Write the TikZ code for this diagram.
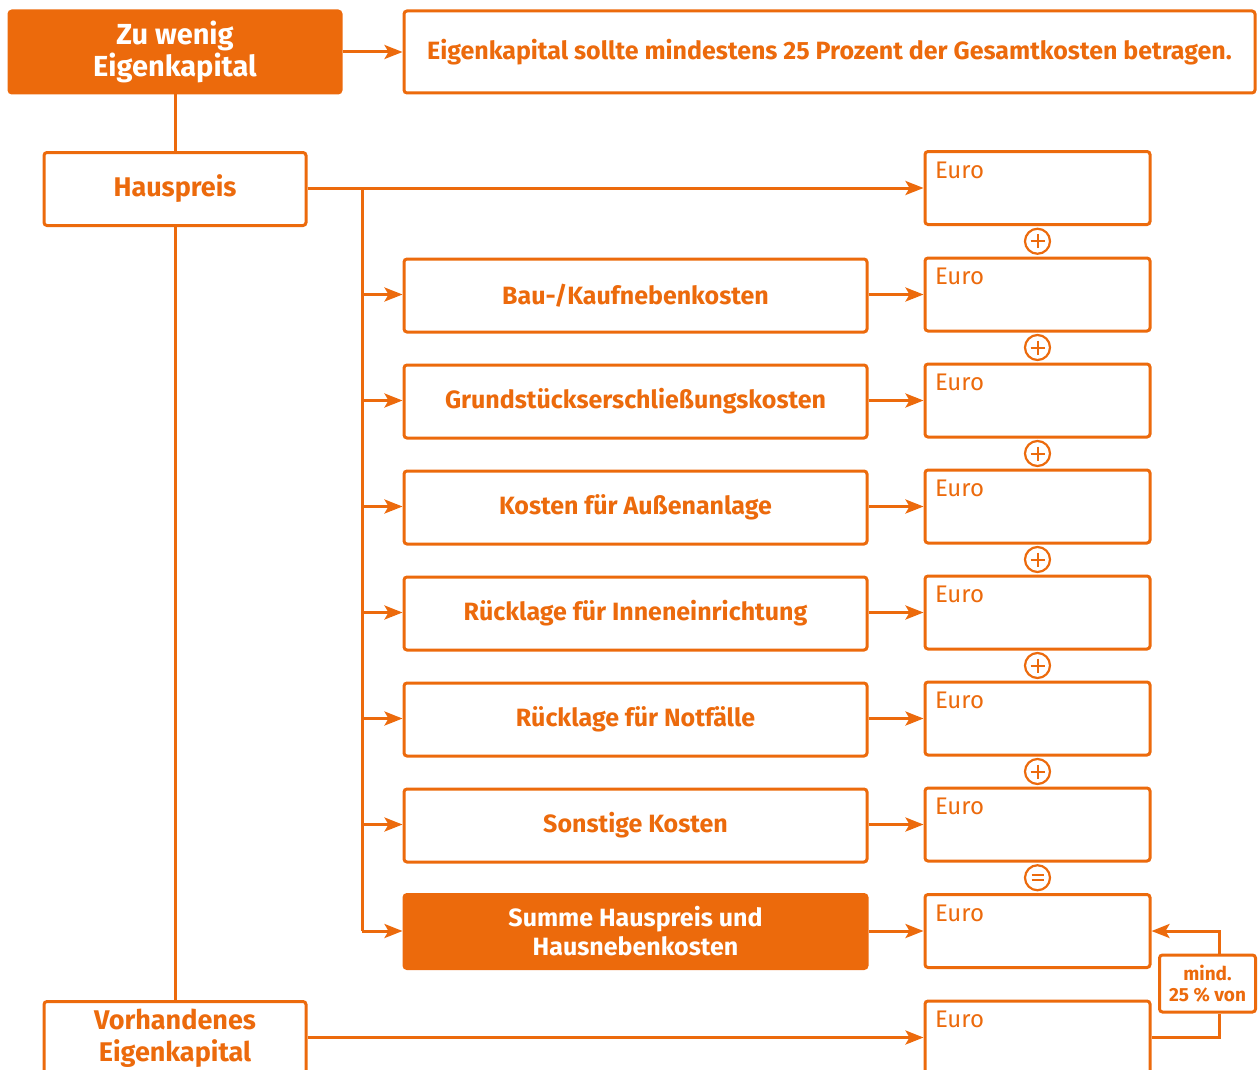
\documentclass[tikz,border=0pt]{standalone}
\usepackage{fontspec}
\setmainfont{Fira Sans}
\usetikzlibrary{arrows.meta,calc}
\definecolor{myor}{RGB}{236,106,12}
\begin{document}
\begin{tikzpicture}[x=1pt,y=-1pt,
  line width=3pt,
  lin/.style={draw=myor,line width=3pt},
  arr/.style={lin,-{Stealth[length=18pt,width=14pt,inset=4pt]}},
  box/.style={draw=myor,line width=3pt,rounded corners=3pt,fill=white,text=myor,
    inner sep=0pt,align=center,font=\bfseries\fontsize{25}{29}\selectfont},
  fbox/.style={box,fill=myor,text=white},
  midbox/.style={box,minimum width=463pt,minimum height=73pt},
  eurobox/.style={box,minimum width=225pt,minimum height=73pt},
  eurotxt/.style={anchor=base west,text=myor,inner sep=0pt,font=\fontsize{24}{28}\selectfont},
  opc/.style={draw=myor,line width=2.2pt,circle,minimum size=25pt,inner sep=0pt,fill=white}
]
\useasboundingbox (0,0) rectangle (1260,1070);
\clip (0,0) rectangle (1260,1070);

% top row
\node[fbox,minimum width=332pt,minimum height=82pt,font=\bfseries\fontsize{29}{32}\selectfont] (zu) at (175,52) {Zu wenig\\Eigenkapital};
\node[box,minimum width=851pt,minimum height=82pt] (top) at (829.5,52) {Eigenkapital sollte mindestens 25 Prozent der Gesamtkosten betragen.};

% left column
\node[box,minimum width=262pt,minimum height=73pt,font=\bfseries\fontsize{27}{31}\selectfont] (haus) at (175,189) {Hauspreis};
\node[box,minimum width=262pt,minimum height=73pt,font=\bfseries\fontsize{27}{32}\selectfont] (vor) at (175,1038) {Vorhandenes\\Eigenkapital};

% middle column
\node[midbox] (m1) at (635.5,295.5) {Bau-/Kaufnebenkosten};
\node[midbox] (m2) at (635.5,401.5) {Grundstückserschließungskosten};
\node[midbox] (m3) at (635.5,507.5) {Kosten für Außenanlage};
\node[midbox] (m4) at (635.5,613.5) {Rücklage für Inneneinrichtung};
\node[midbox] (m5) at (635.5,719.5) {Rücklage für Notfälle};
\node[midbox] (m6) at (635.5,825.5) {Sonstige Kosten};
\node[midbox,fill=myor,text=white,minimum height=74pt] (m7) at (635.5,931.5) {Summe Hauspreis und\\Hausnebenkosten};

% euro column
\foreach \n/\y in {0/188,1/294.5,2/400.5,3/506.5,4/612.5,5/718.5,6/824.5,7/931,8/1037.5}{
  \node[eurobox] (e\n) at (1037.5,\y) {};
  \node[eurotxt] (et\n) at ($(e\n.north west)+(10,28)$) {Euro};
}

% operator circles
\foreach \a/\b in {0/1,1/2,2/3,3/4,4/5,5/6}{
  \node[opc] (p\a) at ($(e\a.south)!0.5!(e\b.north)$) {};
  \draw[draw=myor,line width=2pt] ($(p\a)+(-7,0)$) -- ($(p\a)+(7,0)$);
  \draw[draw=myor,line width=2pt] ($(p\a)+(0,-7)$) -- ($(p\a)+(0,7)$);
}
\node[opc] (q6) at ($(e6.south)!0.5!(e7.north)$) {};
\draw[draw=myor,line width=2pt] ($(q6)+(-6,-2.5)$) -- ($(q6)+(6,-2.5)$);
\draw[draw=myor,line width=2pt] ($(q6)+(-6,2.5)$) -- ($(q6)+(6,2.5)$);

% mind box
\node[box,minimum width=96pt,minimum height=57pt,font=\bfseries\fontsize{19}{21}\selectfont] (mind) at (1207.5,983.5) {mind.\\25 \% von};

% connectors
\draw[arr] (zu.east |- top.west) -- (top.west);
\draw[lin] (zu.south) -- (haus.north);
\draw[lin] (haus.south) -- (vor.north);
\draw[arr] (haus.east |- e0.west) -- (e0.west);
\coordinate (br) at (362,188);
\draw[lin] (br) -- (br |- e7.west);
\foreach \n in {1,...,7}{
  \draw[arr] (br |- e\n.west) -- (m\n.west |- e\n.west);
  \draw[arr] (m\n.east |- e\n.west) -- (e\n.west);
}
\draw[arr] (vor.east |- e8.west) -- (e8.west);
\coordinate (mx) at (1219,0);
\draw[lin] (e8.east) -| (mx |- mind.south);
\draw[arr] (mx |- mind.north) |- (e7.east);
\end{tikzpicture}
\end{document}
